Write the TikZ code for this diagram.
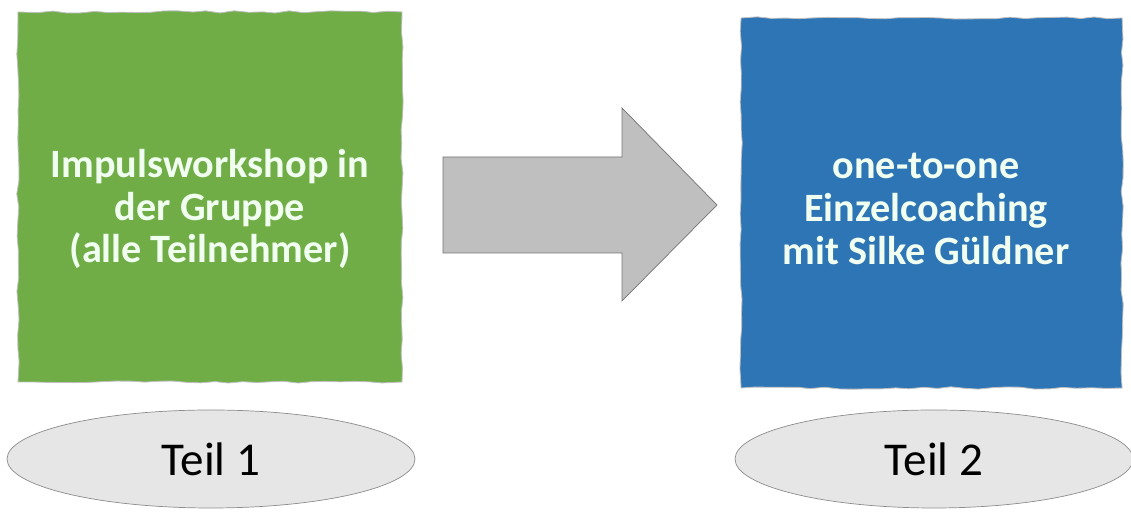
\documentclass[tikz,border=0pt]{standalone}
\usepackage{fontspec}
\setmainfont{Carlito}
\usetikzlibrary{shapes.geometric,decorations.pathmorphing}
\definecolor{grpgreen}{HTML}{70AD47}
\definecolor{coachblue}{HTML}{2E75B6}
\definecolor{arrowgray}{HTML}{BFBFBF}
\definecolor{partgray}{HTML}{E7E6E6}
\tikzset{
  partbox/.style={draw=white!75!black, line width=0.6pt, decorate,
    decoration={random steps, segment length=0.35cm, amplitude=0.03cm}},
  boxtext/.style={text=white!94!green, align=center,
    font=\fontsize{28.6}{30.5}\selectfont\bfseries},
  partlabel/.style={ellipse, draw=black!45, fill=partgray, line width=0.5pt,
    minimum width=10.2cm, minimum height=2.45cm,
    font=\fontsize{33.5}{35}\selectfont}
}
\begin{document}
\begin{tikzpicture}
        \pgfmathsetseed{11}
        \useasboundingbox (0,0) rectangle (28.275,12.825);
        \node[partbox, fill=grpgreen, minimum width=9.6cm, minimum height=9.25cm] (workshop) at (5.25,7.9) {};
        \node[boxtext] (workshoptxt) at (5.25,7.6) {Impulsworkshop in\\der Gruppe\\(alle Teilnehmer)};
        \node[partbox, fill=coachblue, minimum width=9.525cm, minimum height=9.25cm] (coaching) at (23.29,7.75) {};
        \node[boxtext] (coachingtxt) at (23.15,7.6) {one-to-one\\Einzelcoaching\\mit Silke Güldner};
%        block arrow from part 1 to part 2
        \draw[fill=arrowgray, draw=black!55, line width=0.5pt] (11.075,6.5) -- (11.075,8.9) -- (15.55,8.9)
            -- (15.55,10.125) -- (17.925,7.7) -- (15.55,5.3) -- (15.55,6.5) -- cycle;
        \node[partlabel] (teil1) at (5.275,1.35) {Teil 1};
        \node[partlabel, minimum width=9.95cm] (teil2) at (23.35,1.35) {Teil 2};
      \end{tikzpicture}
\end{document}
